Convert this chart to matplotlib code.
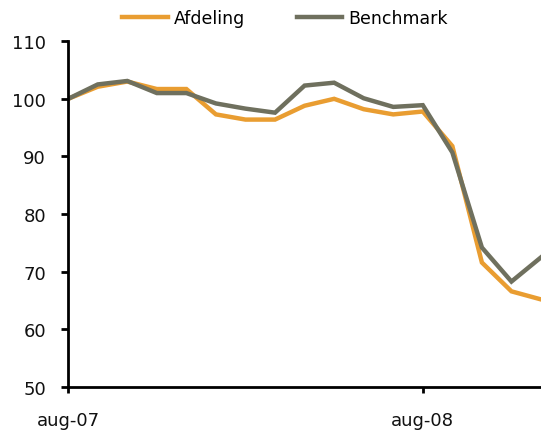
import matplotlib
matplotlib.use("Agg")
import matplotlib.pyplot as plt

# monthly index values, aug-07 .. dec-08
months = ['aug-07', 'sep-07', 'okt-07', 'nov-07', 'dec-07', 'jan-08', 'feb-08',
          'mar-08', 'apr-08', 'maj-08', 'jun-08', 'jul-08', 'aug-08', 'sep-08',
          'okt-08', 'nov-08', 'dec-08']
afdeling = [100, 102.1, 103.0, 101.7, 101.7, 97.3, 96.4, 96.4, 98.8, 100.0,
            98.2, 97.3, 97.8, 91.8, 71.6, 66.6, 65.2]
benchmark = [100, 102.5, 103.1, 101.0, 101.0, 99.2, 98.3, 97.6, 102.3, 102.8,
             100.1, 98.6, 98.9, 90.7, 74.2, 68.3, 72.5]
tick_labels = ['aug-07', 'aug-08']

fig = plt.figure(figsize=(5.41, 4.35), dpi=100)
ax = fig.add_axes([0.126, 0.108, 0.874, 0.795])

x = list(range(len(months)))
ax.plot(x, afdeling, color='#E99D31', lw=3.2, label='Afdeling', solid_joinstyle='miter')
ax.plot(x, benchmark, color='#6F705E', lw=3.2, label='Benchmark', solid_joinstyle='miter')

ax.set_xlim(0, len(months) - 1)
ax.set_ylim(50, 110)
ax.set_yticks(range(50, 111, 10))
ax.set_xticks([months.index(t) for t in tick_labels])
ax.set_xticklabels(tick_labels)

for s in ['top', 'right']:
    ax.spines[s].set_visible(False)
for s in ['left', 'bottom']:
    ax.spines[s].set_linewidth(2)
ax.tick_params(axis='y', length=5, width=2, labelsize=13, pad=11, labelcolor='#111111')
ax.tick_params(axis='x', length=4, width=2, labelsize=13, pad=13, labelcolor='#111111')

fig.legend(loc='upper center', bbox_to_anchor=(0.527, 1.012), ncol=2, frameon=False,
           fontsize=12.5, handlelength=2.6, columnspacing=3.0, handletextpad=0.35)

fig.savefig('out.png', dpi=100)
